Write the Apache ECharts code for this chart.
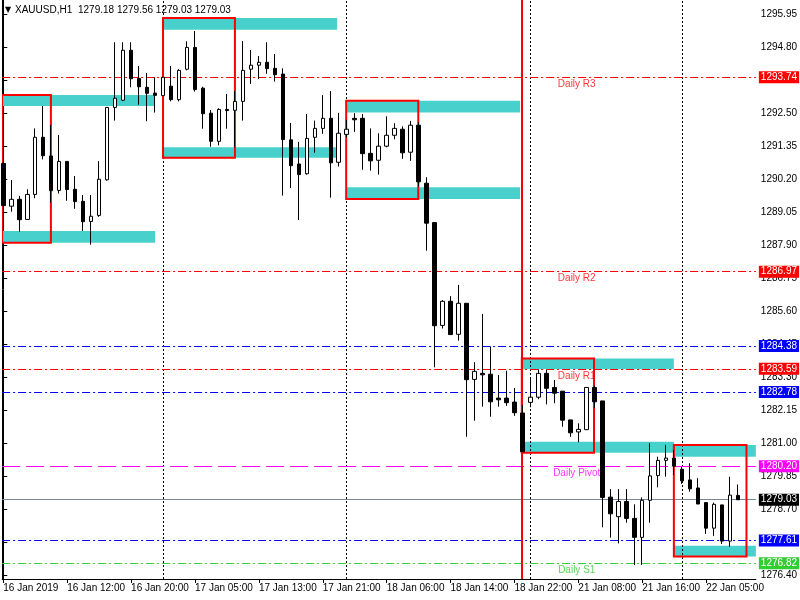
<!DOCTYPE html>
<html><head><meta charset="utf-8">
<script src="https://cdn.jsdelivr.net/npm/echarts@6/dist/echarts.min.js"></script>
<style>html,body{margin:0;padding:0;background:#fff}#c{width:800px;height:600px}</style>
</head><body><div id="c"></div>
<script>
// ---------------- DATA ----------------
const headerSymbol = 'XAUUSD,H1';
const headerValues = ['1279.18', '1279.56', '1279.03', '1279.03'];

const timeLabels = ['16 Jan 2019','16 Jan 12:00','16 Jan 20:00','17 Jan 05:00','17 Jan 13:00','17 Jan 21:00',
  '18 Jan 06:00','18 Jan 14:00','18 Jan 22:00','21 Jan 08:00','21 Jan 16:00','22 Jan 05:00'];
const timeLabelBars = [0,8,16,24,32,40,48,56,64,72,80,88];
const dayStartBars = [20,43,66,85];

const priceTicks = [1276.40,1277.55,1278.70,1279.85,1281.00,1282.15,1283.30,1284.45,1285.60,
  1286.75,1287.90,1289.05,1290.20,1291.35,1292.50,1293.65,1294.80,1295.95];

// hourly bars: [open, high, low, close]
const ohlc = [
[1290.74,1291.17,1289.11,1289.27],[1289.25,1290.16,1289.06,1289.49],[1289.49,1289.61,1288.36,1288.78],
[1288.79,1289.84,1288.79,1289.66],[1289.66,1291.96,1289.53,1291.65],[1291.65,1292.74,1290.88,1291.01],
[1291.00,1292.08,1289.37,1289.79],[1289.80,1291.73,1289.69,1290.81],[1290.81,1290.81,1289.44,1289.83],
[1289.84,1290.30,1289.16,1289.41],[1289.42,1289.64,1288.39,1288.71],[1288.72,1289.64,1287.91,1288.90],
[1288.93,1290.82,1288.88,1290.19],[1290.17,1292.69,1290.14,1292.69],[1292.69,1294.96,1292.23,1293.01],
[1292.94,1294.96,1292.91,1294.68],[1294.68,1294.96,1293.39,1293.69],[1293.70,1294.13,1292.78,1293.41],
[1293.39,1293.89,1292.21,1293.18],[1293.19,1293.74,1292.51,1293.11],[1293.10,1293.75,1293.10,1293.74],
[1293.43,1294.13,1292.90,1292.96],[1292.96,1294.02,1292.90,1293.98],[1294.02,1294.99,1293.98,1294.78],
[1294.78,1295.35,1293.24,1293.31],[1293.36,1293.41,1291.95,1292.47],[1292.49,1292.60,1291.32,1291.51],
[1291.51,1292.66,1291.37,1292.62],[1292.62,1293.16,1291.95,1292.58],[1292.59,1293.26,1291.30,1292.90],
[1292.90,1295.00,1292.23,1293.98],[1294.02,1294.69,1293.51,1294.16],[1294.16,1294.48,1293.68,1294.26],
[1294.26,1294.96,1293.86,1294.04],[1294.05,1294.55,1293.59,1293.83],[1293.85,1294.05,1289.62,1291.57],
[1291.56,1292.15,1289.88,1290.66],[1290.72,1291.49,1288.77,1290.35],[1290.38,1292.46,1290.35,1291.61],
[1291.65,1292.23,1291.11,1291.96],[1291.96,1293.12,1291.77,1292.31],[1292.31,1293.26,1289.55,1290.76],
[1290.78,1292.50,1290.63,1291.79],[1291.75,1292.25,1291.65,1291.93],[1292.31,1292.49,1291.84,1292.26],
[1292.31,1292.46,1290.52,1291.08],[1291.09,1291.96,1290.49,1290.83],[1290.85,1291.79,1290.35,1291.34],
[1291.34,1292.38,1291.30,1291.72],[1291.72,1292.14,1291.58,1291.96],[1291.93,1292.03,1290.90,1291.11],
[1291.13,1292.22,1290.83,1292.07],[1292.07,1292.17,1289.93,1290.10],[1290.05,1290.26,1287.70,1288.66],
[1288.68,1288.68,1283.64,1285.09],[1285.10,1285.98,1284.99,1285.94],[1285.94,1286.12,1284.78,1284.78],
[1284.79,1286.51,1284.57,1285.87],[1285.87,1285.87,1281.22,1283.21],[1283.22,1283.82,1281.78,1283.50],
[1283.43,1285.50,1282.27,1283.38],[1283.40,1284.37,1281.92,1282.44],[1282.57,1283.37,1282.27,1282.51],
[1282.57,1283.52,1282.30,1282.41],[1282.43,1282.92,1281.95,1282.06],[1282.05,1282.33,1280.70,1280.70],
[1282.42,1283.27,1282.25,1282.60],[1282.60,1283.57,1282.53,1283.43],[1283.43,1283.55,1282.35,1282.91],
[1282.94,1283.20,1282.39,1282.74],[1282.81,1282.81,1281.57,1281.80],[1281.81,1281.81,1281.22,1281.36],
[1281.39,1281.69,1281.03,1281.48],[1281.47,1282.95,1281.46,1282.94],[1282.94,1283.00,1282.23,1282.44],
[1282.47,1282.47,1278.07,1279.11],[1279.12,1279.40,1277.71,1278.54],[1278.44,1279.40,1277.51,1278.97],
[1278.97,1279.40,1278.23,1278.38],[1278.38,1278.87,1276.76,1277.72],[1277.72,1279.11,1276.76,1279.01],
[1279.01,1281.00,1278.23,1279.86],[1279.87,1280.53,1279.46,1280.40],[1280.40,1280.94,1279.83,1280.48],
[1280.48,1280.76,1279.89,1280.20],[1280.09,1280.18,1279.58,1279.69],[1279.72,1280.30,1279.31,1279.41],
[1279.44,1279.78,1278.88,1278.88],[1278.93,1278.93,1277.84,1278.04],[1278.04,1278.93,1277.77,1278.87],
[1278.85,1278.85,1277.49,1277.59],[1277.59,1279.83,1277.39,1279.19],[1279.18,1279.56,1279.03,1279.03]
];

// zones: [fromBar, priceTop, toBar, priceBottom]
const zoneBands = [
  [-2,1293.12,19,1292.74],[-2,1288.39,19,1287.98],
  [20,1295.80,41.8,1295.39],[20,1291.30,41.8,1290.94],
  [42.93,1292.92,64.7,1292.51],[42.93,1289.91,64.7,1289.50],
  [64.92,1283.95,83.96,1283.58],[64.92,1281.05,83.96,1280.67],
  [83.96,1280.94,98,1280.53],[83.96,1277.43,98,1277.05]
];
const zoneBoxes = [
  [-2,1293.12,5.96,1287.98],
  [20,1295.80,29,1290.94],
  [42.93,1292.92,51.96,1289.50],
  [64.92,1283.95,73.96,1280.67],
  [83.96,1280.94,93.05,1277.05]
];
const markerBar = 64.92;

const pivotNames = ['Daily R3','Daily R2','Daily R1','Daily Pivot','Daily S1'];
const pivotValues = [1293.74,1286.97,1283.59,1280.20,1276.82];
const rangeLevels = [1284.38,1282.78,1277.61];
const bidPrice = 1279.03;

// ---------------- STYLE ----------------
const FF = '"Liberation Sans", Arial, sans-serif';
const FS = 10;

const X_MIN = -0.15, X_MAX = -0.15 + 755/8;
const Y_MIN = 1276.27, Y_MAX = 1296.43;
const TEXT_BAR = 71.8;
const DASHDOT = [8,3,2,3];
const pivotColors = ['#ff0000','#ff0000','#ff0000','#ff00ff','#32cd32'];

const chart = echarts.init(document.getElementById('c'), null, {renderer:'canvas'});

function rectSeries(data, style, z){
  return {
    type:'custom', z: z, silent:true, clip:true, animation:false,
    data: data,
    renderItem: function(params, api){
      const x1 = Math.max(api.value(0), X_MIN), x2 = Math.min(api.value(2), X_MAX);
      const p1 = api.coord([x1, api.value(1)]);
      const p2 = api.coord([x2, api.value(3)]);
      return {type:'rect', shape:{x:Math.min(p1[0],p2[0]), y:Math.min(p1[1],p2[1]),
        width:Math.abs(p2[0]-p1[0]), height:Math.abs(p2[1]-p1[1])}, style: style};
    },
    encode:{x:[0,2], y:[1,3]}
  };
}

function valueLabel(v, bg){
  return {show:true, position:'end', formatter:v.toFixed(2), backgroundColor:bg, color:'#fff',
    padding:[1,2,0,2], distance:3, fontFamily:FF, fontSize:FS, lineHeight:FS+1};
}

const levelLines = [];
pivotValues.forEach((v,i)=>{
  const c = pivotColors[i];
  const isPivot = pivotNames[i] === 'Daily Pivot';
  levelLines.push({yAxis:v, lineStyle:{color:c, width:1, type: isPivot ? [18,6] : DASHDOT}, label:valueLabel(v,c)});
});
rangeLevels.forEach(v=>{
  levelLines.push({yAxis:v, lineStyle:{color:'#0000ff', width:1, type:DASHDOT}, label:valueLabel(v,'#0000ff')});
});
levelLines.push({yAxis:bidPrice, lineStyle:{color:'#778899', width:1, type:'solid'}, label:valueLabel(bidPrice,'#000000')});

const headerGraphics = [
  {type:'text', z:100, x:5, y:10, style:{text:'▼', fill:'#000', font:'8px "DejaVu Sans"', verticalAlign:'middle', align:'left'}},
  {type:'text', z:100, x:15, y:10, style:{text:headerSymbol, fill:'#000', font:FS+'px '+FF, verticalAlign:'middle', align:'left'}},
  {type:'text', z:100, x:78, y:10, style:{text:headerValues.join(' '), fill:'#000', font:FS+'px '+FF, verticalAlign:'middle', align:'left'}}
];

const option = {
  animation:false,
  backgroundColor:'#ffffff',
  grid:{left:2.1, top:0, width:755, height:579, containLabel:false},
  xAxis:{
    type:'value', min:X_MIN, max:X_MAX,
    axisLine:{show:true, lineStyle:{color:'#000', width:1}},
    axisTick:{show:true, customValues:timeLabelBars, length:4, lineStyle:{color:'#000'}},
    axisLabel:{show:true, customValues:timeLabelBars, align:'left', margin:4, color:'#000',
      fontFamily:FF, fontSize:FS,
      formatter: v => { const i = timeLabelBars.indexOf(Math.round(v)); return i>=0 ? timeLabels[i] : ''; }},
    splitLine:{show:false}
  },
  yAxis:[{
    type:'value', position:'right', min:Y_MIN, max:Y_MAX,
    axisLine:{show:true, lineStyle:{color:'#000', width:1}},
    axisTick:{show:true, inside:false, customValues:priceTicks, length:4, lineStyle:{color:'#000'}},
    axisLabel:{show:true, customValues:priceTicks, margin:5, color:'#000', fontFamily:FF, fontSize:FS,
      formatter: v => v.toFixed(2)},
    splitLine:{show:false}
  },{
    type:'value', position:'left', min:Y_MIN, max:Y_MAX,
    axisLine:{show:true, lineStyle:{color:'#000', width:1}},
    axisTick:{show:false}, axisLabel:{show:false}, splitLine:{show:false}
  }],
  graphic: headerGraphics,
  series:[
    {type:'line', data:[], z:1, silent:true,
      markLine:{silent:true, symbol:['none','none'], animation:false,
        data: dayStartBars.map(b=>({xAxis:b, lineStyle:{color:'#000', width:1, type:[2,2]}, label:{show:false}}))}},
    rectSeries(zoneBands, {fill:'#48d1cc'}, 2),
    {type:'line', data:[], z:3, silent:true,
      markLine:{silent:true, symbol:['none','none'], animation:false, data: levelLines}},
    {type:'scatter', z:4, silent:true, symbolSize:1, itemStyle:{color:'rgba(0,0,0,0)'},
      data: pivotNames.map((n,i)=>({name:n, value:[TEXT_BAR, pivotValues[i]], label:{color:pivotColors[i]}})),
      label:{show:true, formatter:'{b}', position:'inside', offset:[0,7], fontFamily:FF, fontSize:FS}},
    rectSeries(zoneBoxes, {fill:'none', stroke:'#ff0000', lineWidth:2}, 5),
    {type:'line', data:[], z:5, silent:true,
      markLine:{silent:true, symbol:['none','none'], animation:false,
        data:[{xAxis:markerBar, lineStyle:{color:'#ff0000', width:2, type:'solid'}, label:{show:false}}]}},
    {type:'candlestick', z:10, silent:true, barWidth:4,
      dimensions:['t','open','close','lowest','highest'],
      encode:{x:'t', y:['open','close','lowest','highest']},
      data: ohlc.map((r,i)=>[i, r[0], r[3], r[2], r[1]]),
      itemStyle:{color:'#ffffff', color0:'#000000', borderColor:'#000000', borderColor0:'#000000',
        borderColorDoji:'#000000', borderWidth:1}}
  ]
};
chart.setOption(option);
</script>
</body></html>
